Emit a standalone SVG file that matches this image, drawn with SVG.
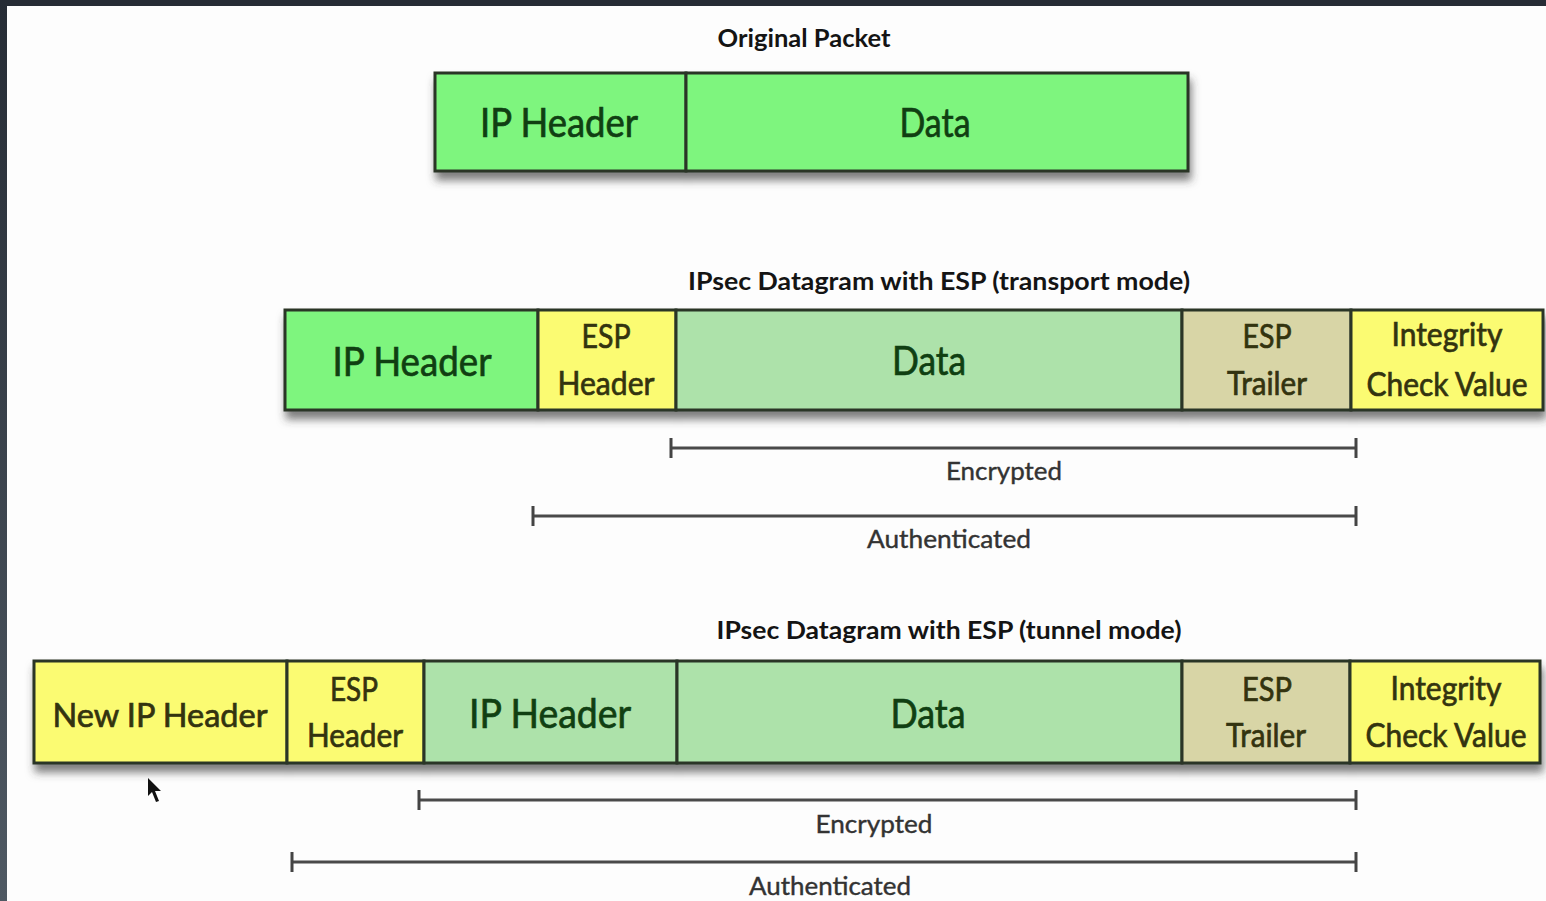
<svg xmlns="http://www.w3.org/2000/svg" width="1546" height="901" viewBox="0 0 1546 901">
  <defs>
    <linearGradient id="sideBar" x1="0" y1="0" x2="0" y2="1">
      <stop offset="0" stop-color="#262c35"/>
      <stop offset="1" stop-color="#4f5963"/>
    </linearGradient>
    <filter id="shadow" x="-5%" y="-20%" width="110%" height="150%">
      <feDropShadow dx="2" dy="8" stdDeviation="4.5" flood-color="#3a3a3a" flood-opacity="0.65"/>
    </filter>
    <marker id="tick" viewBox="0 0 4 20" refX="2" refY="10" markerWidth="4" markerHeight="20" markerUnits="userSpaceOnUse" orient="auto">
      <rect x="0.5" y="0" width="3" height="20" fill="#444"/>
    </marker>
  </defs>
  <style>
    .cell { stroke: #2a3427; stroke-width: 3; }
    .ip { fill: #7ef57e; }
    .esp { fill: #fbfb72; }
    .enc { fill: #ade2aa; }
    .trl { fill: #d8d5a6; }
    .t { font-family: Lato, "Liberation Sans", sans-serif; text-anchor: middle; stroke-width: 0.7; }
    .big { font-size: 40px; fill: #103f12; stroke: #103f12; }
    .mid { font-size: 33px; fill: #33330f; stroke: #33330f; }
    .title { font-size: 25px; font-weight: bold; fill: #141414; stroke: none; }
    .lbl { font-size: 25px; fill: #333; stroke: #333; stroke-width: 0.4; }
    .span { stroke: #4a4a4a; stroke-width: 3; fill: none; marker-start: url(#tick); marker-end: url(#tick); }
  </style>

  <rect width="1546" height="901" fill="#fdfdfd"/>
  <rect x="0" y="0" width="1546" height="6" fill="#262c35"/>
  <rect x="0" y="0" width="7" height="901" fill="url(#sideBar)"/>

  <!-- Original packet -->
  <g id="original-packet">
    <text class="t title" x="804" y="47" textLength="173" lengthAdjust="spacingAndGlyphs">Original Packet</text>
    <g filter="url(#shadow)">
      <rect class="cell ip" x="435" y="73" width="251" height="98"/>
      <rect class="cell ip" x="686" y="73" width="502" height="98"/>
    </g>
    <text class="t big" x="559" y="137" textLength="158" lengthAdjust="spacingAndGlyphs">IP Header</text>
    <text class="t big" x="935" y="137" textLength="71" lengthAdjust="spacingAndGlyphs">Data</text>
  </g>

  <!-- ESP transport mode -->
  <g id="transport-mode">
    <text class="t title" x="939" y="290" textLength="502" lengthAdjust="spacingAndGlyphs">IPsec Datagram with ESP (transport mode)</text>
    <g filter="url(#shadow)">
      <rect class="cell ip" x="285" y="310" width="253" height="100"/>
      <rect class="cell esp" x="538" y="310" width="138" height="100"/>
      <rect class="cell enc" x="676" y="310" width="506" height="100"/>
      <rect class="cell trl" x="1182" y="310" width="169" height="100"/>
      <rect class="cell esp" x="1351" y="310" width="192" height="100"/>
    </g>
    <text class="t big" x="412" y="376" textLength="159" lengthAdjust="spacingAndGlyphs">IP Header</text>
    <text class="t mid" x="606" y="348" textLength="49" lengthAdjust="spacingAndGlyphs">ESP</text>
    <text class="t mid" x="606" y="395" textLength="97" lengthAdjust="spacingAndGlyphs">Header</text>
    <text class="t big" x="929" y="375" textLength="74" lengthAdjust="spacingAndGlyphs">Data</text>
    <text class="t mid" x="1267" y="348" textLength="49" lengthAdjust="spacingAndGlyphs">ESP</text>
    <text class="t mid" x="1267" y="395" textLength="80" lengthAdjust="spacingAndGlyphs">Trailer</text>
    <text class="t mid" x="1447" y="346" textLength="111" lengthAdjust="spacingAndGlyphs">Integrity</text>
    <text class="t mid" x="1447" y="396" textLength="161" lengthAdjust="spacingAndGlyphs">Check Value</text>
  </g>

  <!-- ESP tunnel mode -->
  <g id="tunnel-mode">
    <text class="t title" x="949" y="639" textLength="465" lengthAdjust="spacingAndGlyphs">IPsec Datagram with ESP (tunnel mode)</text>
    <g filter="url(#shadow)">
      <rect class="cell esp" x="34" y="661" width="253" height="102"/>
      <rect class="cell esp" x="287" y="661" width="137" height="102"/>
      <rect class="cell enc" x="424" y="661" width="253" height="102"/>
      <rect class="cell enc" x="677" y="661" width="505" height="102"/>
      <rect class="cell trl" x="1182" y="661" width="168" height="102"/>
      <rect class="cell esp" x="1350" y="661" width="190" height="102"/>
    </g>
    <text class="t mid" x="160" y="727" textLength="215" lengthAdjust="spacingAndGlyphs">New IP Header</text>
    <text class="t mid" x="354" y="701" textLength="48" lengthAdjust="spacingAndGlyphs">ESP</text>
    <text class="t mid" x="355" y="747" textLength="96" lengthAdjust="spacingAndGlyphs">Header</text>
    <text class="t big" x="550" y="728" textLength="162" lengthAdjust="spacingAndGlyphs">IP Header</text>
    <text class="t big" x="928" y="728" textLength="75" lengthAdjust="spacingAndGlyphs">Data</text>
    <text class="t mid" x="1267" y="701" textLength="50" lengthAdjust="spacingAndGlyphs">ESP</text>
    <text class="t mid" x="1266" y="747" textLength="80" lengthAdjust="spacingAndGlyphs">Trailer</text>
    <text class="t mid" x="1446" y="700" textLength="111" lengthAdjust="spacingAndGlyphs">Integrity</text>
    <text class="t mid" x="1446" y="747" textLength="161" lengthAdjust="spacingAndGlyphs">Check Value</text>
  </g>

  <!-- Coverage spans -->
  <g id="connectors">
    <path class="span" d="M671 448 H1356" stroke-width="2.5"/>
    <path class="span" d="M533 516 H1356" stroke-width="4"/>
    <path class="span" d="M419 800 H1356"/>
    <path class="span" d="M292 862 H1356"/>
  </g>
  <g id="span-labels">
    <text class="t lbl" x="1004" y="480" textLength="116" lengthAdjust="spacingAndGlyphs">Encrypted</text>
    <text class="t lbl" x="949" y="548" textLength="164" lengthAdjust="spacingAndGlyphs">Authenticated</text>
    <text class="t lbl" x="874" y="833" textLength="117" lengthAdjust="spacingAndGlyphs">Encrypted</text>
    <text class="t lbl" x="830" y="895" textLength="162" lengthAdjust="spacingAndGlyphs">Authenticated</text>
  </g>

  <!-- Pointer -->
  <polygon points="148,778 148,796 152,792 156,802 159,801 155,791 161,791" fill="#111"/>
</svg>
